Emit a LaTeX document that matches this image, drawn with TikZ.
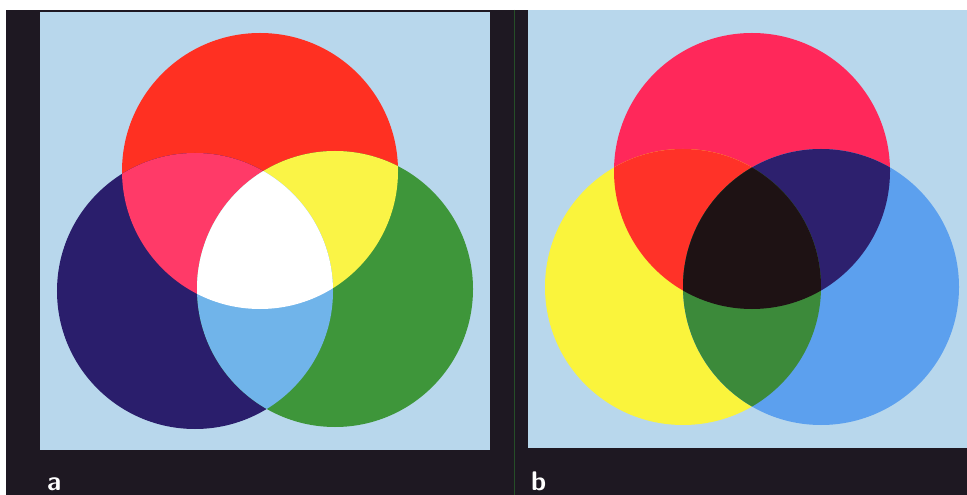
\documentclass[tikz,border=0pt]{standalone}
\usetikzlibrary{positioning}
\definecolor{frameblack}{RGB}{30,24,34}
\definecolor{paperblue}{RGB}{184,215,236}
\definecolor{scanline}{RGB}{38,78,40}
% additive (a)
\definecolor{lightred}{RGB}{255,48,34}
\definecolor{lightblue}{RGB}{42,30,108}
\definecolor{lightgreen}{RGB}{62,150,58}
\definecolor{mixmagenta}{RGB}{255,58,104}
\definecolor{mixyellow}{RGB}{250,244,70}
\definecolor{mixcyan}{RGB}{112,180,234}
% subtractive (b)
\definecolor{inkmagenta}{RGB}{255,40,90}
\definecolor{inkyellow}{RGB}{250,244,60}
\definecolor{inkcyan}{RGB}{92,160,238}
\definecolor{mixred}{RGB}{255,50,40}
\definecolor{mixnavy}{RGB}{45,32,110}
\definecolor{mixgreen}{RGB}{60,138,58}
\definecolor{mixblack}{RGB}{30,18,20}
\newcommand\discrad{138bp}

\begin{document}
\begin{tikzpicture}[
  x=1bp, y=-1bp,
  panel/.style = {fill=paperblue},
  tag/.style   = {font=\sffamily\bfseries\fontsize{27}{30}\selectfont,
                  text=white, inner sep=0pt, anchor=base west},
]
\useasboundingbox (0,0) rectangle (967,495);
\fill[white] (0,0) rectangle (967,495);
\fill[frameblack] (6,10) rectangle (967,495);
\draw[scanline, line width=0.8bp] (514,10) -- (514,495);

\fill[panel] (40,12) rectangle (490,450);
\fill[panel] (528,10) rectangle (967,448);

% panel a: light
\coordinate (R) at (260,171);
\coordinate (B) at (195,291);
\coordinate (G) at (335,289);
\fill[lightred]   (R) circle[radius=\discrad];
\fill[lightblue]  (B) circle[radius=\discrad];
\fill[lightgreen] (G) circle[radius=\discrad];
\begin{scope}
  \clip (R) circle[radius=\discrad];
  \fill[mixmagenta] (B) circle[radius=\discrad];
  \fill[mixyellow]  (G) circle[radius=\discrad];
\end{scope}
\begin{scope}
  \clip (B) circle[radius=\discrad];
  \fill[mixcyan] (G) circle[radius=\discrad];
  \clip (G) circle[radius=\discrad];
  \fill[white] (R) circle[radius=\discrad];
\end{scope}

% panel b: ink
\coordinate (M) at (752,171);
\coordinate (Y) at (683,287);
\coordinate (C) at (821,287);
\fill[inkmagenta] (M) circle[radius=\discrad];
\fill[inkyellow]  (Y) circle[radius=\discrad];
\fill[inkcyan]    (C) circle[radius=\discrad];
\begin{scope}
  \clip (M) circle[radius=\discrad];
  \fill[mixred]  (Y) circle[radius=\discrad];
  \fill[mixnavy] (C) circle[radius=\discrad];
\end{scope}
\begin{scope}
  \clip (Y) circle[radius=\discrad];
  \fill[mixgreen] (C) circle[radius=\discrad];
  \clip (C) circle[radius=\discrad];
  \fill[mixblack] (M) circle[radius=\discrad];
\end{scope}

\node[tag] (tagA) at (47,490) {a};
\node[tag] (tagB) at (531,490) {b};
\end{tikzpicture}
\end{document}
